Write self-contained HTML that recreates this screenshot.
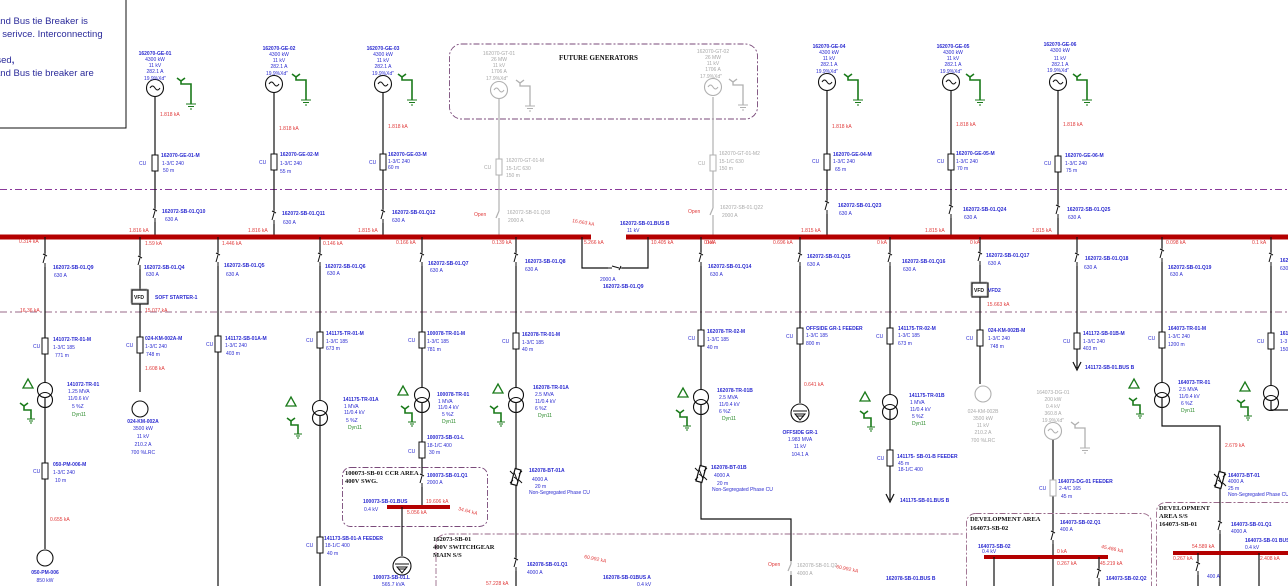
<!DOCTYPE html>
<html><head><meta charset="utf-8"><style>
html,body{margin:0;padding:0;background:#fff;width:1288px;height:586px;overflow:hidden}
svg{display:block}
text{font-family:"Liberation Sans",sans-serif;font-size:5px;fill:#2a2ad0}
.b{font-weight:bold}
.r{fill:#e03a3a}
.g{fill:#2a8a2a}
.gr{fill:#a8a8a8}
.s{font-family:"Liberation Serif",serif;font-weight:bold;fill:#111;font-size:7px}
.ln{stroke:#111;stroke-width:1.2;fill:none}
.gl{stroke:#b0b0b0;stroke-width:1.2;fill:none}
</style></head><body>
<svg width="1288" height="586" viewBox="0 0 1288 586" xmlns="http://www.w3.org/2000/svg">
<defs>
<g id="gen"><circle r="8.5" fill="#fff" stroke="#111" stroke-width="1.1"/><path d="M-5 0 q2.5-4 5 0 t5 0" fill="none" stroke="#111" stroke-width="1"/></g>
<g id="ggen"><circle r="8.5" fill="#fff" stroke="#b0b0b0" stroke-width="1.1"/><path d="M-5 0 q2.5-4 5 0 t5 0" fill="none" stroke="#b0b0b0" stroke-width="1"/></g>
<g id="gnd" fill="none" stroke="#1a7a1a" stroke-width="1.6"><path d="M-4 -6 L0 -3 L4 -6 M0 -3 V0 H10 V20"/><path d="M5 20 H15 M7 22.5 H13 M9 25 H11" stroke-width="1"/></g>
<g id="ggnd" fill="none" stroke="#b0b0b0" stroke-width="1.3"><path d="M-4 -6 L0 -3 L4 -6 M0 -3 V0 H10 V20"/><path d="M5 20 H15 M7 22.5 H13 M9 25 H11" stroke-width="1"/></g>
<g id="cab"><rect x="-3" y="-8" width="6" height="16" fill="#fff" stroke="#111" stroke-width="1"/></g>
<g id="gcab"><rect x="-3" y="-8" width="6" height="16" fill="#fff" stroke="#b0b0b0" stroke-width="1"/></g>
<g id="brk"><rect x="-3" y="-7" width="6" height="14" fill="#fff"/><path d="M0 -7 L0 -5 M-2 -6 L2 -4 M0 -4 L-2 3 M0 3 V7" stroke="#111" stroke-width="1" fill="none"/></g>
<g id="gbrk"><rect x="-3" y="-7" width="6" height="14" fill="#fff"/><path d="M0 -7 V-4 M0 -4 L-3 3 M0 3 V7" stroke="#b0b0b0" stroke-width="1.2" fill="none"/></g>
<g id="tr"><circle cy="-5" r="7.5" fill="#fff" stroke="#111" stroke-width="1.1"/><circle cy="5" r="7.5" fill="none" stroke="#111" stroke-width="1.1"/></g>
<g id="dy"><path d="M-5 5 L0 -4 L5 5 Z" fill="none" stroke="#1a7a1a" stroke-width="1.3"/></g>
<g id="yg" fill="none" stroke="#1a7a1a" stroke-width="1.6"><path d="M-4 -4 L0 -1 L4 -4 M0 -1 V3 H7 V12"/><path d="M3 12 H11 M5 14 H9 M6 16 H8" stroke-width="1"/></g>
<g id="rea"><rect x="-3" y="-8" width="6" height="16" fill="#fff" stroke="#111" stroke-width="1.2" transform="rotate(15)"/><path d="M-6 -6 L-3 -3 M-6 6 L-3 3 M6 -6 L3 -3 M6 6 L3 3 M-2 -5 L2 5 M-2 0 L2 3" stroke="#111" stroke-width="1"/></g>
<g id="lg"><circle r="9" fill="#fff" stroke="#111" stroke-width="1.1"/><path d="M-7 -2 H7 M-5 1 L5 1 L0 7 Z M-4 3 H4" fill="none" stroke="#111" stroke-width="1"/></g>
<g id="vfd"><rect x="-8" y="-7" width="16" height="14" fill="#fff" stroke="#111" stroke-width="1.2"/><rect x="-9" y="-8" width="16" height="14" fill="none" stroke="#888" stroke-width="0.6"/></g>
</defs>

<rect x="-2" y="-2" width="128" height="130" fill="#fff" stroke="#111" stroke-width="1"/>
<text x="-5" y="24" style="font-size:9.5px;fill:#2a2a9a">and Bus tie Breaker is</text>
<text x="-3" y="37" style="font-size:9.5px;fill:#2a2a9a">f serivce. Interconnecting</text>
<text x="-11" y="63" style="font-size:9.5px;fill:#2a2a9a">losed<tspan style="font-weight:bold">,</tspan></text>
<text x="-5" y="76" style="font-size:9.5px;fill:#2a2a9a">and Bus tie breaker are</text>

<path d="M0 189.5 H1288" stroke="#8a3a9a" stroke-width="0.9" stroke-dasharray="7 3 2 3" fill="none"/>
<path d="M0 312 H1288" stroke="#9a6a8a" stroke-width="0.9" stroke-dasharray="7 3 2 3" fill="none"/>

<rect x="449.5" y="44" width="308" height="75" rx="12" fill="none" stroke="#7a4a7a" stroke-width="0.9" stroke-dasharray="6 2 2 2"/>
<text x="559" y="60" class="s" style="font-size:7px">FUTURE GENERATORS</text>

<path class="ln" d="M155 96 V237"/>
<use href="#gen" x="155" y="88"/><use href="#gnd" x="181" y="84"/>
<text x="155" y="55" text-anchor="middle" class="b">162070-GE-01</text>
<text x="155" y="61" text-anchor="middle">4300 kW</text><text x="155" y="67" text-anchor="middle">11 kV</text><text x="155" y="73" text-anchor="middle">282.1 A</text><text x="155" y="80" text-anchor="middle">19.9%Xd"</text>
<text x="160" y="116" class="r">1.818 kA</text>
<use href="#cab" x="155" y="163"/><text x="139" y="165">CU</text>
<text x="161" y="157" class="b">162070-GE-01-M</text><text x="162" y="165">1-3/C 240</text><text x="163" y="172">50 m</text>
<use href="#brk" x="155" y="215"/><text x="162" y="213" class="b">162072-SB-01.Q10</text><text x="165" y="221">630 A</text>
<text x="129" y="232" class="r">1.816 kA</text>
<path class="ln" d="M274 92 V237"/>
<use href="#gen" x="274" y="84"/><use href="#gnd" x="296" y="80"/>
<text x="279" y="50" text-anchor="middle" class="b">162070-GE-02</text>
<text x="279" y="56" text-anchor="middle">4300 kW</text><text x="279" y="62" text-anchor="middle">11 kV</text><text x="279" y="68" text-anchor="middle">282.1 A</text><text x="277" y="75" text-anchor="middle">19.9%Xd"</text>
<text x="279" y="130" class="r">1.818 kA</text>
<use href="#cab" x="274" y="162"/><text x="259" y="164">CU</text>
<text x="280" y="156" class="b">162070-GE-02-M</text><text x="280" y="165">1-3/C 240</text><text x="280" y="173">55 m</text>
<use href="#brk" x="274" y="217"/><text x="282" y="215" class="b">162072-SB-01.Q11</text><text x="283" y="224">630 A</text>
<text x="248" y="232" class="r">1.816 kA</text>
<path class="ln" d="M383 92 V237"/>
<use href="#gen" x="383" y="84"/><use href="#gnd" x="402" y="80"/>
<text x="383" y="50" text-anchor="middle" class="b">162070-GE-03</text>
<text x="383" y="56" text-anchor="middle">4300 kW</text><text x="383" y="62" text-anchor="middle">11 kV</text><text x="383" y="68" text-anchor="middle">282.1 A</text><text x="383" y="75" text-anchor="middle">19.9%Xd"</text>
<text x="388" y="128" class="r">1.818 kA</text>
<use href="#cab" x="383" y="162"/><text x="369" y="164">CU</text>
<text x="388" y="156" class="b">162070-GE-03-M</text><text x="388" y="163">1-3/C 240</text><text x="388" y="169">60 m</text>
<use href="#brk" x="383" y="216"/><text x="392" y="214" class="b">162072-SB-01.Q12</text><text x="392" y="222">630 A</text>
<text x="358" y="232" class="r">1.815 kA</text>

<path class="gl" d="M499 98 V237"/>
<use href="#ggen" x="499" y="90"/><use href="#ggnd" x="520" y="86"/>
<text x="499" y="55" text-anchor="middle" class="gr">162070-GT-01</text>
<text x="499" y="61" text-anchor="middle" class="gr">26 MW</text><text x="499" y="67" text-anchor="middle" class="gr">11 kV</text><text x="499" y="73" text-anchor="middle" class="gr">1706 A</text><text x="497" y="80" text-anchor="middle" class="gr">17.9%Xd"</text>
<use href="#gcab" x="499" y="167"/><text x="484" y="169" class="gr">CU</text>
<text x="506" y="162" class="gr">162070-GT-01-M</text><text x="506" y="170" class="gr">15-1/C 630</text><text x="506" y="177" class="gr">150 m</text>
<use href="#gbrk" x="499" y="215"/><text x="507" y="214" class="gr">162072-SB-01.Q18</text><text x="508" y="222" class="gr">2000 A</text>
<text x="474" y="216" class="r">Open</text>
<text x="492" y="244" class="r">0.139 kA</text>
<path class="gl" d="M713 97 V237"/>
<use href="#ggen" x="713" y="87"/><use href="#ggnd" x="733" y="85"/>
<text x="713" y="53" text-anchor="middle" class="gr">162070-GT-02</text>
<text x="713" y="59" text-anchor="middle" class="gr">26 MW</text><text x="713" y="65" text-anchor="middle" class="gr">11 kV</text><text x="713" y="71" text-anchor="middle" class="gr">1706 A</text><text x="711" y="78" text-anchor="middle" class="gr">17.9%Xd"</text>
<use href="#gcab" x="713" y="163"/><text x="698" y="165" class="gr">CU</text>
<text x="719" y="155" class="gr">162070-GT-01-M2</text><text x="719" y="163" class="gr">15-1/C 630</text><text x="719" y="170" class="gr">150 m</text>
<use href="#gbrk" x="713" y="212"/><text x="720" y="209" class="gr">162072-SB-01.Q22</text><text x="722" y="217" class="gr">2000 A</text>
<text x="688" y="213" class="r">Open</text>
<text x="704" y="244" class="r">0 kA</text>

<path class="ln" d="M827 90 V237"/>
<use href="#gen" x="827" y="82"/><use href="#gnd" x="848" y="80"/>
<text x="829" y="48" text-anchor="middle" class="b">162070-GE-04</text>
<text x="829" y="54" text-anchor="middle">4300 kW</text><text x="829" y="60" text-anchor="middle">11 kV</text><text x="829" y="66" text-anchor="middle">282.1 A</text><text x="827" y="73" text-anchor="middle">19.9%Xd"</text>
<text x="832" y="128" class="r">1.818 kA</text>
<use href="#cab" x="827" y="162"/><text x="812" y="163">CU</text>
<text x="833" y="156" class="b">162070-GE-04-M</text><text x="833" y="163">1-3/C 240</text><text x="835" y="171">65 m</text>
<use href="#brk" x="827" y="207"/><text x="838" y="207" class="b">162072-SB-01.Q23</text><text x="839" y="215">630 A</text>
<text x="801" y="232" class="r">1.815 kA</text>
<path class="ln" d="M951 90 V237"/>
<use href="#gen" x="951" y="82"/><use href="#gnd" x="970" y="80"/>
<text x="953" y="48" text-anchor="middle" class="b">162070-GE-05</text>
<text x="953" y="54" text-anchor="middle">4300 kW</text><text x="953" y="60" text-anchor="middle">11 kV</text><text x="953" y="66" text-anchor="middle">282.1 A</text><text x="951" y="73" text-anchor="middle">19.9%Xd"</text>
<text x="956" y="126" class="r">1.818 kA</text>
<use href="#cab" x="951" y="162"/><text x="937" y="163">CU</text>
<text x="956" y="155" class="b">162070-GE-05-M</text><text x="956" y="163">1-3/C 240</text><text x="957" y="170">70 m</text>
<use href="#brk" x="951" y="211"/><text x="963" y="211" class="b">162072-SB-01.Q24</text><text x="964" y="219">630 A</text>
<text x="925" y="232" class="r">1.815 kA</text>
<path class="ln" d="M1058 90 V237"/>
<use href="#gen" x="1058" y="82"/><use href="#gnd" x="1077" y="80"/>
<text x="1060" y="46" text-anchor="middle" class="b">162070-GE-06</text>
<text x="1060" y="52" text-anchor="middle">4300 kW</text><text x="1060" y="60" text-anchor="middle">11 kV</text><text x="1060" y="66" text-anchor="middle">282.1 A</text><text x="1058" y="72" text-anchor="middle">19.9%Xd"</text>
<text x="1063" y="126" class="r">1.818 kA</text>
<use href="#cab" x="1058" y="164"/><text x="1044" y="165">CU</text>
<text x="1065" y="157" class="b">162070-GE-06-M</text><text x="1065" y="165">1-3/C 240</text><text x="1066" y="172">75 m</text>
<use href="#brk" x="1058" y="211"/><text x="1067" y="211" class="b">162072-SB-01.Q25</text><text x="1068" y="219">630 A</text>
<text x="1032" y="232" class="r">1.815 kA</text>

<rect x="0" y="234.5" width="591" height="5" fill="#b40000"/>
<rect x="626" y="234.5" width="662" height="5" fill="#b40000"/>
<text x="572" y="222" class="r" transform="rotate(10 572 222)">16.663 kA</text>
<text x="620" y="225" class="b">162072-SB-01.BUS B</text><text x="627" y="232">11 kV</text>
<path class="ln" d="M582 237 V268 H648 V237"/>
<use href="#brk" x="615" y="268" transform="rotate(90 615 268)"/>
<text x="600" y="281">2000 A</text><text x="603" y="288" class="b">162072-SB-01.Q9</text>
<text x="584" y="244" class="r">5.266 kA</text><text x="651" y="244" class="r">10.405 kA</text>

<path class="ln" d="M45 237 V549"/>
<use href="#brk" x="45" y="260"/><text x="53" y="269" class="b">162072-SB-01.Q9</text><text x="54" y="277">630 A</text>
<text x="19" y="243" class="r">0.314 kA</text>
<text x="20" y="312" class="r">16.36 kA</text>
<use href="#cab" x="45" y="346"/><text x="33" y="348">CU</text>
<text x="53" y="341" class="b">141072-TR-01-M</text><text x="53" y="349">1-3/C 185</text><text x="55" y="357">771 m</text>
<use href="#tr" x="45" y="395"/><use href="#dy" x="28" y="383"/><use href="#yg" x="24" y="407"/>
<text x="67" y="386" class="b">141072-TR-01</text><text x="68" y="393">1.25 MVA</text><text x="68" y="400">11/0.6 kV</text><text x="72" y="408">5 %Z</text><text x="72" y="416" class="g">Dyn11</text>
<use href="#cab" x="45" y="471"/><text x="33" y="473">CU</text>
<text x="53" y="466" class="b">050-PM-006-M</text><text x="53" y="474">1-3/C 240</text><text x="55" y="482">10 m</text>
<text x="50" y="521" class="r">0.655 kA</text>
<circle cx="45" cy="558" r="8" fill="#fff" stroke="#111" stroke-width="1.1"/>
<text x="45" y="574" text-anchor="middle" class="b">050-PM-006</text><text x="45" y="582" text-anchor="middle">850 kW</text>

<path class="ln" d="M140 237 V392"/>
<use href="#brk" x="140" y="262"/><text x="144" y="269" class="b">162072-SB-01.Q4</text><text x="146" y="276">630 A</text>
<text x="145" y="245" class="r">1.59 kA</text>
<use href="#vfd" x="140" y="297"/><text x="134" y="299" style="font-size:5px;fill:#111;font-weight:bold">VFD</text>
<text x="155" y="299" class="b">SOFT STARTER-1</text>
<text x="145" y="312" class="r">15.077 kA</text>
<use href="#cab" x="140" y="345"/><text x="126" y="347">CU</text>
<text x="145" y="340" class="b">024-KM-002A-M</text><text x="145" y="348">1-3/C 240</text><text x="146" y="356">748 m</text>
<text x="145" y="370" class="r">1.608 kA</text>
<circle cx="140" cy="409" r="8" fill="#fff" stroke="#111" stroke-width="1.1"/>
<text x="143" y="423" text-anchor="middle" class="b">024-KM-002A</text><text x="143" y="430" text-anchor="middle">3500 kW</text><text x="143" y="438" text-anchor="middle">11 kV</text><text x="143" y="446" text-anchor="middle">210.2 A</text><text x="143" y="454" text-anchor="middle">700 %LRC</text>

<path class="ln" d="M218 237 V586"/>
<use href="#brk" x="218" y="259"/><text x="224" y="267" class="b">162072-SB-01.Q5</text><text x="226" y="276">630 A</text>
<text x="222" y="245" class="r">1.446 kA</text>
<use href="#cab" x="218" y="344"/><text x="206" y="346">CU</text>
<text x="225" y="340" class="b">141172-SB-01A-M</text><text x="225" y="347">1-3/C 240</text><text x="226" y="355">403 m</text>

<path class="ln" d="M320 237 V586"/>
<use href="#brk" x="320" y="259"/><text x="325" y="268" class="b">162072-SB-01.Q6</text><text x="327" y="275">630 A</text>
<text x="323" y="245" class="r">0.146 kA</text>
<use href="#cab" x="320" y="340"/><text x="306" y="342">CU</text>
<text x="326" y="335" class="b">141175-TR-01-M</text><text x="326" y="343">1-3/C 185</text><text x="326" y="350">673 m</text>
<use href="#tr" x="320" y="413"/><use href="#dy" x="291" y="401"/><use href="#yg" x="291" y="422"/>
<text x="343" y="401" class="b">141175-TR-01A</text><text x="344" y="408">1 MVA</text><text x="344" y="414">11/0.4 kV</text><text x="346" y="422">5 %Z</text><text x="348" y="429" class="g">Dyn11</text>
<use href="#cab" x="320" y="545"/><text x="306" y="547">CU</text>
<text x="324" y="540" class="b">141173-SB-01-A FEEDER</text><text x="325" y="547">18-1/C 400</text><text x="327" y="555">40 m</text>

<path class="ln" d="M422 237 V507"/>
<use href="#brk" x="422" y="259"/><text x="428" y="265" class="b">162072-SB-01.Q7</text><text x="430" y="272">630 A</text>
<text x="396" y="244" class="r">0.166 kA</text>
<use href="#cab" x="422" y="340"/><text x="408" y="342">CU</text>
<text x="427" y="335" class="b">100078-TR-01-M</text><text x="427" y="343">1-3/C 185</text><text x="427" y="351">781 m</text>
<use href="#tr" x="422" y="400"/><use href="#dy" x="403" y="390"/><use href="#yg" x="405" y="410"/>
<text x="437" y="396" class="b">100078-TR-01</text><text x="438" y="403">1 MVA</text><text x="438" y="409">11/0.4 kV</text><text x="442" y="416">5 %Z</text><text x="442" y="423" class="g">Dyn11</text>
<use href="#cab" x="422" y="450"/><text x="408" y="453">CU</text>
<text x="427" y="439" class="b">100073-SB-01-L</text><text x="427" y="447">18-1/C 400</text><text x="429" y="454">30 m</text>
<rect x="342.5" y="467.5" width="145" height="59" rx="8" fill="none" stroke="#7a4a7a" stroke-width="0.9" stroke-dasharray="6 2 2 2"/>
<text x="345" y="475" class="s" style="font-size:6.5px">100073-SB-01 CCR AREA</text><text x="345" y="483" class="s" style="font-size:6.5px">400V SWG.</text>
<use href="#brk" x="422" y="480"/><text x="427" y="477" class="b">100073-SB-01.Q1</text><text x="427" y="484">2000 A</text>
<rect x="387" y="505" width="63" height="4" fill="#b40000"/>
<text x="363" y="503" class="b">100073-SB-01.BUS</text><text x="364" y="511">0.4 kV</text>
<text x="426" y="503" class="r">19.606 kA</text><text x="407" y="514" class="r">5.056 kA</text>
<text x="458" y="510" class="r" transform="rotate(15 458 510)">34.64 kA</text>
<path class="ln" d="M402 507 V556"/>
<use href="#lg" x="402" y="566"/>
<text x="373" y="579" class="b">100073-SB-01.L</text><text x="382" y="586">565.7 kVA</text>

<path class="ln" d="M516 237 V586"/>
<use href="#brk" x="516" y="259"/><text x="525" y="263" class="b">162073-SB-01.Q8</text><text x="525" y="271">630 A</text>
<use href="#cab" x="516" y="341"/><text x="502" y="343">CU</text>
<text x="522" y="336" class="b">162078-TR-01-M</text><text x="522" y="344">1-3/C 185</text><text x="522" y="351">40 m</text>
<use href="#tr" x="516" y="400"/><use href="#dy" x="498" y="388"/><use href="#yg" x="494" y="410"/>
<text x="533" y="389" class="b">162078-TR-01A</text><text x="535" y="396">2.5 MVA</text><text x="535" y="403">11/0.4 kV</text><text x="535" y="410">6 %Z</text><text x="538" y="417" class="g">Dyn11</text>
<use href="#rea" x="516" y="477"/>
<text x="529" y="472" class="b">162078-BT-01A</text><text x="532" y="481">4000 A</text><text x="535" y="488">20 m</text><text x="529" y="494">Non-Segregated Phase CU</text>

<path class="ln" d="M701 237 V519 H791 V586"/>
<use href="#brk" x="701" y="259"/><text x="708" y="268" class="b">162072-SB-01.Q14</text><text x="710" y="276">630 A</text>
<text x="706" y="244" class="r">0 kA</text>
<use href="#cab" x="701" y="338"/><text x="688" y="340">CU</text>
<text x="707" y="333" class="b">162078-TR-02-M</text><text x="707" y="341">1-3/C 185</text><text x="707" y="349">40 m</text>
<use href="#tr" x="701" y="402"/><use href="#dy" x="683" y="392"/><use href="#yg" x="680" y="414"/>
<text x="717" y="392" class="b">162078-TR-01B</text><text x="719" y="399">2.5 MVA</text><text x="719" y="406">11/0.4 kV</text><text x="719" y="413">6 %Z</text><text x="722" y="420" class="g">Dyn11</text>
<use href="#rea" x="701" y="474"/>
<text x="711" y="469" class="b">162078-BT-01B</text><text x="714" y="477">4000 A</text><text x="717" y="485">20 m</text><text x="712" y="491">Non-Segregated Phase CU</text>

<path class="ln" d="M800 237 V403"/>
<use href="#brk" x="800" y="259"/><text x="807" y="258" class="b">162072-SB-01.Q15</text><text x="807" y="266">630 A</text>
<text x="773" y="244" class="r">0.696 kA</text>
<use href="#cab" x="800" y="336"/><text x="786" y="338">CU</text>
<text x="806" y="330" class="b">OFFSIDE GR-1 FEEDER</text><text x="806" y="337">1-3/C 185</text><text x="806" y="345">800 m</text>
<text x="804" y="386" class="r">0.641 kA</text>
<use href="#lg" x="800" y="413"/>
<text x="800" y="434" text-anchor="middle" class="b">OFFSIDE GR-1</text><text x="800" y="441" text-anchor="middle">1.983 MVA</text><text x="800" y="448" text-anchor="middle">11 kV</text><text x="800" y="456" text-anchor="middle">104.1 A</text>

<path class="ln" d="M890 237 V500 M886 494 L890 502 L894 494"/>
<use href="#brk" x="890" y="259"/><text x="902" y="263" class="b">162072-SB-01.Q16</text><text x="903" y="271">630 A</text>
<text x="877" y="244" class="r">0 kA</text>
<use href="#cab" x="890" y="336"/><text x="876" y="338">CU</text>
<text x="898" y="330" class="b">141175-TR-02-M</text><text x="898" y="337">1-3/C 185</text><text x="898" y="345">673 m</text>
<use href="#tr" x="890" y="407"/><use href="#dy" x="865" y="396"/><use href="#yg" x="864" y="415"/>
<text x="909" y="397" class="b">141175-TR-01B</text><text x="910" y="404">1 MVA</text><text x="910" y="411">11/0.4 kV</text><text x="912" y="418">5 %Z</text><text x="912" y="425" class="g">Dyn11</text>
<use href="#cab" x="890" y="458"/><text x="877" y="460">CU</text>
<text x="897" y="458" class="b">141175- SB-01-B FEEDER</text><text x="898" y="465">45 m</text><text x="898" y="471">18-1/C 400</text>
<text x="900" y="502" class="b">141175-SB-01.BUS B</text>

<path class="ln" d="M980 237 V384"/>
<use href="#brk" x="980" y="258"/><text x="986" y="257" class="b">162072-SB-01.Q17</text><text x="988" y="265">630 A</text>
<text x="970" y="244" class="r">0 kA</text>
<use href="#vfd" x="980" y="290"/><text x="974" y="292" style="font-size:5px;fill:#111;font-weight:bold">VFD</text>
<text x="988" y="292" class="b">VFD2</text>
<text x="987" y="306" class="r">15.663 kA</text>
<use href="#cab" x="980" y="338"/><text x="966" y="340">CU</text>
<text x="988" y="332" class="b">024-KM-002B-M</text><text x="988" y="340">1-3/C 240</text><text x="990" y="348">748 m</text>
<circle cx="983" cy="394" r="8" fill="#fff" stroke="#b0b0b0" stroke-width="1.1"/>
<text x="983" y="413" text-anchor="middle" class="gr">024-KM-002B</text><text x="983" y="420" text-anchor="middle" class="gr">3500 kW</text><text x="983" y="427" text-anchor="middle" class="gr">11 kV</text><text x="983" y="434" text-anchor="middle" class="gr">210.2 A</text><text x="983" y="442" text-anchor="middle" class="gr">700 %LRC</text>

<path class="ln" d="M1053 440 V586"/>
<use href="#ggen" x="1053" y="431"/><use href="#ggnd" x="1075" y="428"/>
<text x="1053" y="394" text-anchor="middle" class="gr">164073-DG-01</text><text x="1053" y="401" text-anchor="middle" class="gr">200 kW</text><text x="1053" y="408" text-anchor="middle" class="gr">0.4 kV</text><text x="1053" y="415" text-anchor="middle" class="gr">360.8 A</text><text x="1053" y="422" text-anchor="middle" class="gr">19.9%Xd"</text>
<use href="#gcab" x="1053" y="488"/><text x="1039" y="490">CU</text>
<text x="1058" y="483" class="b">164073-DG-01 FEEDER</text><text x="1059" y="490">2-4/C 165</text><text x="1061" y="498">45 m</text>

<path class="ln" d="M1077 237 V368 M1073 362 L1077 370 L1081 362"/>
<use href="#brk" x="1077" y="259"/><text x="1085" y="260" class="b">162072-SB-01.Q18</text><text x="1084" y="269">630 A</text>
<use href="#cab" x="1077" y="341"/><text x="1063" y="343">CU</text>
<text x="1083" y="335" class="b">141172-SB-01B-M</text><text x="1083" y="343">1-3/C 240</text><text x="1083" y="350">403 m</text>
<text x="1085" y="369" class="b">141172-SB-01.BUS B</text>

<path class="ln" d="M1162 237 V426 H1220 V586"/>
<use href="#brk" x="1162" y="255"/><text x="1168" y="269" class="b">162072-SB-01.Q19</text><text x="1170" y="276">630 A</text>
<text x="1166" y="244" class="r">0.098 kA</text>
<use href="#cab" x="1162" y="340"/><text x="1148" y="340">CU</text>
<text x="1168" y="330" class="b">164073-TR-01-M</text><text x="1168" y="338">1-3/C 240</text><text x="1168" y="346">1200 m</text>
<use href="#tr" x="1162" y="395"/><use href="#dy" x="1134" y="383"/><use href="#yg" x="1133" y="402"/>
<text x="1178" y="384" class="b">164073-TR-01</text><text x="1179" y="391">2.5 MVA</text><text x="1179" y="398">11/0.4 kV</text><text x="1181" y="405">6 %Z</text><text x="1181" y="412" class="g">Dyn11</text>
<text x="1225" y="447" class="r">2.679 kA</text>
<use href="#rea" x="1220" y="480"/>
<text x="1228" y="477" class="b">164073-BT-01</text><text x="1228" y="483">4000 A</text><text x="1228" y="490">25 m</text><text x="1228" y="496">Non-Segregated Phase CU</text>

<path class="ln" d="M1271 237 V410 H1288"/>
<use href="#brk" x="1271" y="259"/><text x="1280" y="262" class="b">162</text><text x="1280" y="270">630</text>
<text x="1252" y="244" class="r">0.1 kA</text>
<use href="#cab" x="1271" y="341"/><text x="1257" y="343">CU</text>
<text x="1280" y="335" class="b">161</text><text x="1280" y="343">1-3</text><text x="1280" y="351">150</text>
<use href="#tr" x="1271" y="398"/><use href="#dy" x="1245" y="386"/><use href="#yg" x="1241" y="404"/>

<path d="M436 586 V546 Q436 534 448 534 H963" fill="none" stroke="#9a6a8a" stroke-width="0.9" stroke-dasharray="6 2 2 2"/>
<text x="433" y="541" class="s" style="font-size:6.5px">162073-SB-01</text><text x="433" y="549" class="s" style="font-size:6.5px">400V SWITCHGEAR</text><text x="433" y="557" class="s" style="font-size:6.5px">MAIN S/S</text>
<use href="#brk" x="516" y="564"/><text x="527" y="566" class="b">162078-SB-01.Q1</text><text x="527" y="574">4000 A</text>
<text x="486" y="585" class="r">57.228 kA</text>
<text x="584" y="558" class="r" transform="rotate(12 584 558)">60.992 kA</text>
<text x="603" y="579" class="b">162078-SB-01BUS A</text><text x="637" y="586">0.4 kV</text>
<use href="#gbrk" x="791" y="568"/><text x="797" y="567" class="gr">162078-SB-01.Q2</text><text x="797" y="575" class="gr">4000 A</text>
<text x="768" y="566" class="r">Open</text>
<text x="836" y="568" class="r" transform="rotate(12 836 568)">60.992 kA</text>
<text x="886" y="580" class="b">162078-SB-01.BUS B</text>

<rect x="966.5" y="513.5" width="185" height="90" rx="9" fill="none" stroke="#9a6a8a" stroke-width="0.9" stroke-dasharray="6 2 2 2"/>
<text x="970" y="521" class="s" style="font-size:6.5px">DEVELOPMENT  AREA</text><text x="970" y="530" class="s" style="font-size:6.5px">164073-SB-02</text>
<use href="#brk" x="1053" y="537"/><text x="1060" y="524" class="b">164073-SB-02.Q1</text><text x="1060" y="531">400 A</text>
<rect x="984" y="555" width="124" height="4" fill="#b40000"/>
<text x="978" y="548" class="b">164073-SB-02</text><text x="982" y="553">0.4 kV</text>
<text x="1057" y="553" class="r">0 kA</text><text x="1057" y="565" class="r">0.267 kA</text>
<text x="1101" y="548" class="r" transform="rotate(12 1101 548)">45.486 kA</text>
<text x="1100" y="565" class="r">45.219 kA</text>
<path class="ln" d="M994 557 V586 M1099 557 V586"/>
<use href="#brk" x="1099" y="575"/><text x="1106" y="580" class="b">164073-SB-02.Q2</text>

<rect x="1156.5" y="502.5" width="140" height="100" rx="9" fill="none" stroke="#9a6a8a" stroke-width="0.9" stroke-dasharray="6 2 2 2"/>
<text x="1159" y="510" class="s" style="font-size:6.5px">DEVELOPMENT</text><text x="1159" y="518" class="s" style="font-size:6.5px">AREA S/S</text><text x="1159" y="526" class="s" style="font-size:6.5px">164073-SB-01</text>
<use href="#brk" x="1220" y="527"/><text x="1231" y="526" class="b">164073-SB-01.Q1</text><text x="1231" y="533">4000 A</text>
<rect x="1173" y="551" width="115" height="4" fill="#b40000"/>
<text x="1245" y="542" class="b">164073-SB-01 BUS</text><text x="1245" y="549">0.4 kV</text>
<text x="1192" y="548" class="r">54.589 kA</text><text x="1173" y="560" class="r">0.267 kA</text><text x="1260" y="560" class="r">2.408 kA</text>
<path class="ln" d="M1198 553 V586 M1259 553 V586"/>
<use href="#brk" x="1198" y="568"/><text x="1207" y="578">400 A</text>
</svg>
</body></html>
